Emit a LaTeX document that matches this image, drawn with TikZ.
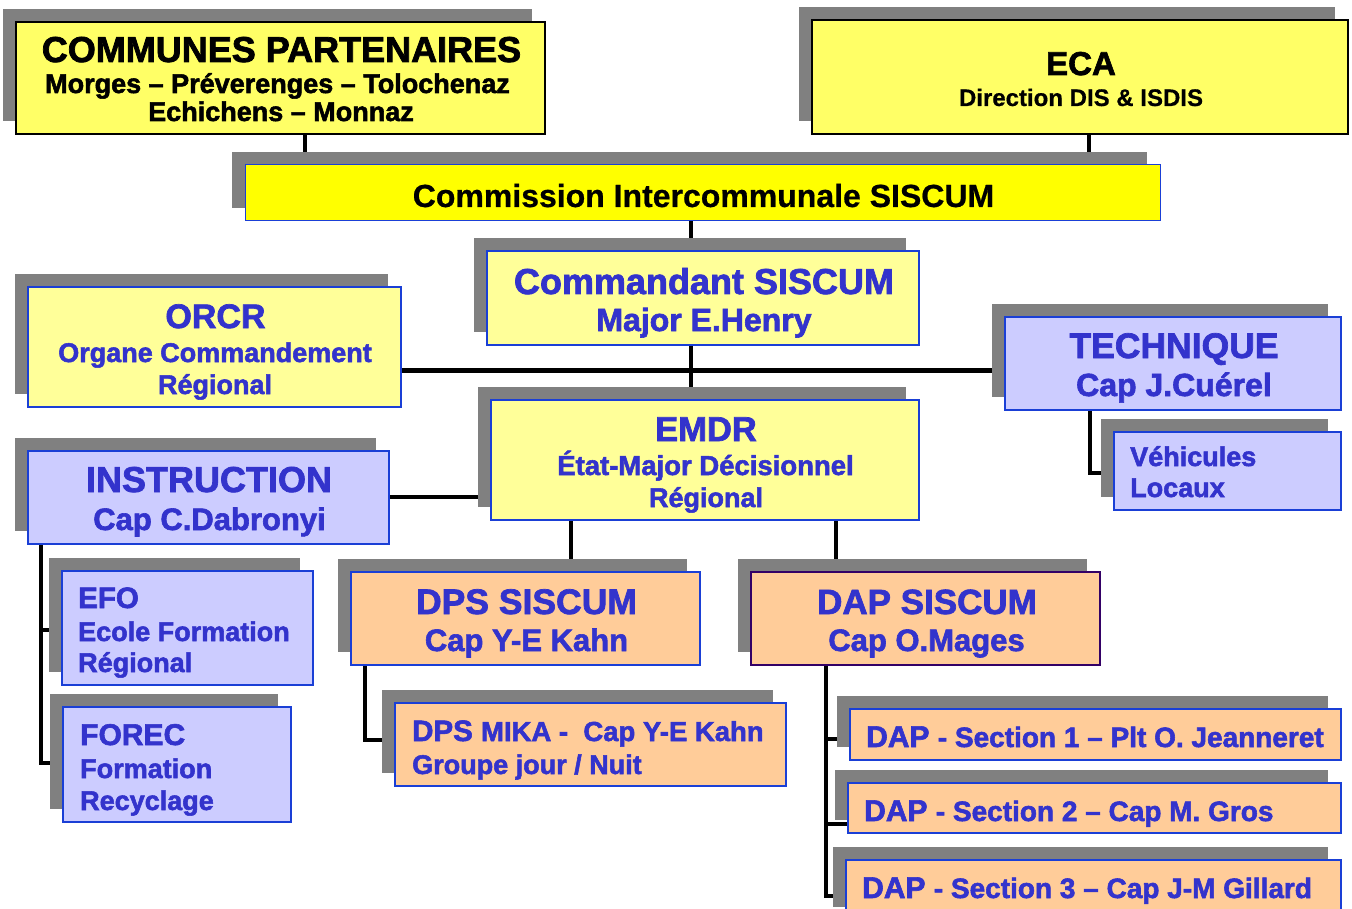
\documentclass[tikz,border=0pt]{standalone}
\usepackage{fontspec}
\setmainfont{Liberation Sans}[BoldFeatures={FakeBold=2}]
\newfontfamily\plainbold{Liberation Sans}[BoldFeatures={FakeBold=0.6}]
\usetikzlibrary{shadows}
\pgfdeclarelayer{background}
\pgfsetlayers{background,main}
\definecolor{yelA}{HTML}{FFFF66}
\definecolor{yelB}{HTML}{FFFF00}
\definecolor{yelC}{HTML}{FFFF99}
\definecolor{lilac}{HTML}{CCCCFF}
\definecolor{peach}{HTML}{FFCC99}
\definecolor{shgray}{HTML}{808080}
\definecolor{tblue}{HTML}{3333CC}
\definecolor{bblue}{HTML}{1A3FD6}
\definecolor{dpurple}{HTML}{330066}
\newcommand\fsz[1]{\fontsize{#1}{#1}\selectfont}
\tikzset{
  box/.style={draw=bblue, line width=1.4pt, inner sep=0,
    general shadow={fill=shgray, draw=none, shadow xshift=-13pt, shadow yshift=13pt}},
  blackbox/.style={box, draw=black, line width=2pt},
  txt/.style={inner sep=0, font=\bfseries, text=tblue},
  btxt/.style={inner sep=0, font=\bfseries, text=black},
  conn/.style={line width=4.5pt, draw=black},
}
\begin{document}
\begin{tikzpicture}[x=1pt,y=-1pt]
\clip (0,0) rectangle (1352,909);
\useasboundingbox (0,0) rectangle (1352,909);

% boxes
\node[blackbox, fill=yelA, minimum width=529pt, minimum height=112pt] (comm) at (280.5,78) {};
\node[blackbox, fill=yelA, minimum width=536pt, minimum height=114pt] (eca) at (1080,77) {};
\node[box, fill=yelB, line width=1pt, minimum width=915pt, minimum height=56pt] (cis) at (702.5,193) {};
\node[box, fill=yelC, minimum width=432pt, minimum height=94pt] (cmd) at (703,298) {};
\node[box, fill=yelC, minimum width=373pt, minimum height=120pt] (orcr) at (214.5,347) {};
\node[box, fill=lilac, minimum width=336pt, minimum height=93pt] (tech) at (1173,363.5) {};
\node[box, fill=lilac, minimum width=227pt, minimum height=78pt] (veh) at (1227.5,471) {};
\node[box, fill=yelC, minimum width=428pt, minimum height=120pt] (emdr) at (705,460) {};
\node[box, fill=lilac, minimum width=361pt, minimum height=93pt] (instr) at (208.5,497.5) {};
\node[box, fill=lilac, minimum width=251pt, minimum height=114pt] (efo) at (187.5,628) {};
\node[box, fill=lilac, minimum width=228pt, minimum height=115pt] (forec) at (177,764.5) {};
\node[box, fill=peach, minimum width=349pt, minimum height=93pt] (dps) at (525.5,618.5) {};
\node[box, fill=peach, minimum width=391pt, minimum height=83pt] (mika) at (590.5,744.5) {};
\node[box, fill=peach, draw=dpurple, minimum width=349pt, minimum height=93pt] (dap) at (925.5,618.5) {};
\node[box, fill=peach, minimum width=491pt, minimum height=51pt] (s1) at (1095.5,734.5) {};
\node[box, fill=peach, minimum width=493pt, minimum height=50pt] (s2) at (1094.5,808) {};
\node[box, fill=peach, minimum width=495pt, minimum height=60pt] (s3) at (1093.5,890) {};

% connector guide coordinates
\coordinate (j1) at (305,0);
\coordinate (j2) at (1089,0);
\coordinate (j3) at (691,0);
\coordinate (j4) at (0,370.5);
\coordinate (j5) at (0,497);
\coordinate (j6) at (571,0);
\coordinate (j7) at (836,0);
\coordinate (j8) at (41,0);
\coordinate (k1) at (0,630);
\coordinate (k2) at (0,763);
\coordinate (j10) at (365,0);
\coordinate (k3) at (0,740);
\coordinate (j11) at (826,0);
\coordinate (k4) at (0,739);
\coordinate (k5) at (0,824);
\coordinate (k6) at (0,896);
\coordinate (j12) at (1090,0);
\coordinate (k7) at (0,473);

\begin{pgfonlayer}{background}
\draw[conn] (comm.south -| j1) -- (cis.north -| j1);
\draw[conn] (eca.south -| j2) -- (cis.north -| j2);
\draw[conn] (cis.south -| j3) -- (cmd.north -| j3);
\draw[conn] (cmd.south -| j3) -- (emdr.north -| j3);
\draw[conn] (orcr.east |- j4) -- (tech.west |- j4);
\draw[conn] (instr.east |- j5) -- (emdr.west |- j5);
\draw[conn] (emdr.south -| j6) -- (dps.north -| j6);
\draw[conn] (emdr.south -| j7) -- (dap.north -| j7);
\draw[conn] (instr.south -| j8) |- (forec.west |- k2);
\draw[conn] (j8 |- k1) -- (efo.west |- k1);
\draw[conn] (dps.south -| j10) |- (mika.west |- k3);
\draw[conn] (dap.south -| j11) |- (s3.west |- k6);
\draw[conn] (j11 |- k4) -- (s1.west |- k4);
\draw[conn] (j11 |- k5) -- (s2.west |- k5);
\draw[conn] (tech.south -| j12) |- (veh.west |- k7);
\end{pgfonlayer}

% texts
\node[btxt, anchor=base] (tc1) at (281.5,62) {\fsz{36}COMMUNES PARTENAIRES};
\node[btxt, anchor=base] (tc2) at (277.5,93) {\fsz{27}Morges -- Préverenges -- Tolochenaz};
\node[btxt, anchor=base] (tc3) at (281,121) {\fsz{27}Echichens -- Monnaz};
\node[btxt, anchor=base] (te1) at (1081,75) {\fsz{33}ECA};
\node[btxt, anchor=base, font=\plainbold\bfseries] (te2) at (1081,106) {\fsz{24}Direction DIS \& ISDIS};
\node[btxt, anchor=base, font=\plainbold\bfseries] (tcis) at (703.5,207) {\fsz{32}Commission Intercommunale SISCUM};
\node[txt, anchor=base] (tm1) at (704,294) {\fsz{36}Commandant SISCUM};
\node[txt, anchor=base] (tm2) at (704,331) {\fsz{32}Major E.Henry};
\node[txt, anchor=base] (to1) at (215.5,328) {\fsz{34}ORCR};
\node[txt, anchor=base] (to2) at (215,362) {\fsz{27}Organe Commandement};
\node[txt, anchor=base] (to3) at (215,394) {\fsz{27}Régional};
\node[txt, anchor=base] (tt1) at (1174,358) {\fsz{35.5}TECHNIQUE};
\node[txt, anchor=base] (tt2) at (1174,396) {\fsz{32}Cap J.Cuérel};
\node[txt, anchor=base west] (tv1) at (1130,466) {\fsz{27}Véhicules};
\node[txt, anchor=base west] (tv2) at (1130,497) {\fsz{27}Locaux};
\node[txt, anchor=base] (tx1) at (706,441) {\fsz{34.5}EMDR};
\node[txt, anchor=base] (tx2) at (705.5,475) {\fsz{27.5}État-Major Décisionnel};
\node[txt, anchor=base] (tx3) at (706,507) {\fsz{27}Régional};
\node[txt, anchor=base] (ti1) at (209,492) {\fsz{36}INSTRUCTION};
\node[txt, anchor=base] (ti2) at (209.5,530) {\fsz{31}Cap C.Dabronyi};
\node[txt, anchor=base west] (tf1) at (78,608) {\fsz{29.5}EFO};
\node[txt, anchor=base west] (tf2) at (78,641) {\fsz{27}Ecole Formation};
\node[txt, anchor=base west] (tf3) at (78,672) {\fsz{27}Régional};
\node[txt, anchor=base west] (tg1) at (80,745) {\fsz{30}FOREC};
\node[txt, anchor=base west] (tg2) at (80,778) {\fsz{27}Formation};
\node[txt, anchor=base west] (tg3) at (80,810) {\fsz{27}Recyclage};
\node[txt, anchor=base] (td1) at (526.5,614) {\fsz{35.5}DPS SISCUM};
\node[txt, anchor=base] (td2) at (526.5,651) {\fsz{31}Cap Y-E Kahn};
\node[txt, anchor=base west] (tk1) at (412,741) {\fsz{29.5}DPS \fsz{27.5}MIKA -~~Cap Y-E Kahn};
\node[txt, anchor=base west] (tk2) at (412,774) {\fsz{27}Groupe jour / Nuit};
\node[txt, anchor=base] (ta1) at (927,614) {\fsz{35}DAP SISCUM};
\node[txt, anchor=base] (ta2) at (926.5,651) {\fsz{31}Cap O.Mages};
\node[txt, anchor=base west] (ts1) at (866,747) {\fsz{30}DAP \fsz{28}- Section 1 -- Plt O. Jeanneret};
\node[txt, anchor=base west] (ts2) at (864,821) {\fsz{30}DAP \fsz{28}- Section 2 -- Cap M. Gros};
\node[txt, anchor=base west] (ts3) at (862,898) {\fsz{30}DAP \fsz{28}- Section 3 -- Cap J-M Gillard};
\end{tikzpicture}
\end{document}
